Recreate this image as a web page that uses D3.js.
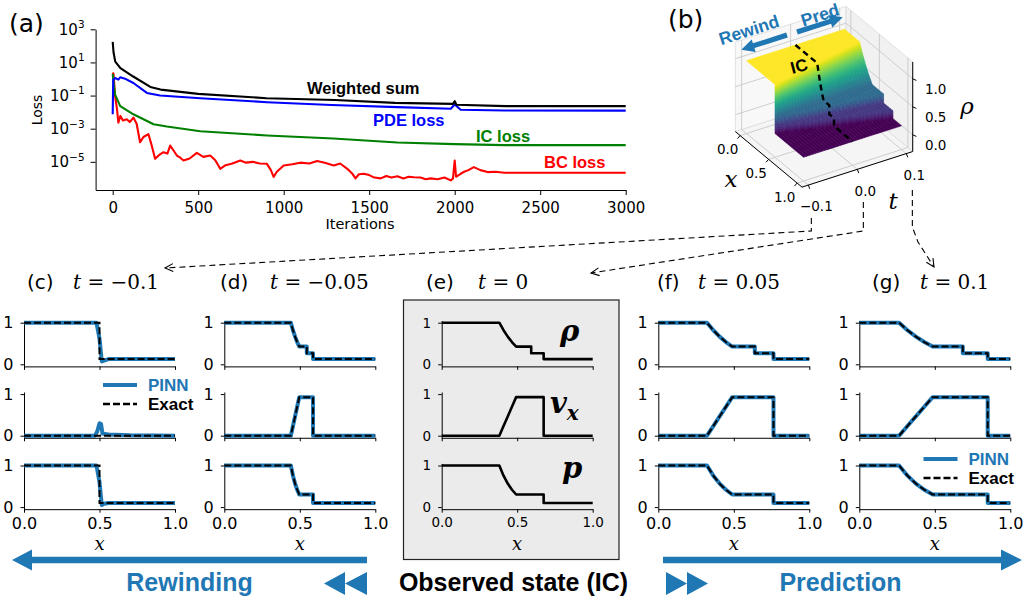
<!DOCTYPE html>
<html>
<head>
<meta charset="utf-8">
<script src="https://cdn.jsdelivr.net/npm/d3@7"></script>
<style>
body { margin: 0; background: #fff; }
svg { display: block; }
</style>
</head>
<body>
<svg id="fig" width="1024" height="597"></svg>
<script>
// ---------- data ----------
// (a) loss history: iteration and log10(loss)
let itWeighted  = [0, 5, 15, 45, 120, 220, 280, 500, 900, 1300, 1650, 1990, 2000, 2010, 2300, 3000];
let logWeighted = [2.24, 1.6, 1.05, 0.65, 0.15, -0.48, -0.64, -0.9, -1.16, -1.27, -1.44, -1.5, -1.34, -1.55, -1.64, -1.64];
let itPDE  = [0, 3, 14, 33, 44, 72, 121, 200, 277, 512, 902, 1280, 1665, 1977, 2000, 2035, 2290, 3000];
let logPDE = [-2.13, -0.04, 0.06, -0.04, 0.1, 0.02, -0.24, -0.84, -1.0, -1.16, -1.4, -1.57, -1.7, -1.8, -1.54, -1.86, -1.9, -1.91];
let itIC  = [0, 8, 14, 44, 121, 239, 317, 512, 902, 1290, 1665, 2000, 2290, 3000];
let logIC = [0.31, -0.44, -0.94, -1.64, -2.13, -2.73, -2.87, -3.15, -3.41, -3.59, -3.83, -3.93, -3.99, -3.99];
let itBC  = [0, 5, 14, 25, 33, 45, 60, 82, 100, 121, 140, 160, 180, 209, 225, 248, 270, 297, 320, 336,
             355, 375, 395, 414, 450, 492, 530, 570, 600, 629, 660, 700, 746, 780, 820, 860, 902, 925, 941, 960,
             1000, 1050, 1098, 1150, 1195, 1240, 1293, 1330, 1372, 1400, 1420, 1440, 1468, 1500, 1530, 1567, 1600, 1630, 1665, 1700,
             1730, 1762, 1800, 1830, 1860, 1900, 1940, 1977, 1990, 2000, 2008, 2016, 2035, 2055, 2080, 2112, 2150, 2192, 2240, 2290, 3000];
let logBC = [0.39, 0.3, -1.04, -1.8, -2.63, -2.23, -2.5, -2.43, -2.6, -2.33, -2.7, -3.82, -3.5, -3.33, -3.9, -4.82, -4.6, -4.42, -4.5, -4.02,
             -4.3, -4.62, -4.75, -4.92, -4.8, -4.46, -4.7, -4.62, -4.9, -5.42, -5.2, -5.1, -4.92, -5.05, -5.0, -5.1, -5.12, -5.5, -5.91, -5.6,
             -5.22, -5.15, -5.05, -5.1, -4.95, -5.05, -5.22, -5.1, -5.42, -5.7, -6.0, -5.75, -5.72, -5.8, -5.95, -6.0, -5.85, -5.95, -5.87, -6.0,
             -5.9, -5.93, -5.95, -6.05, -6.0, -6.05, -5.95, -6.12, -6.0, -4.92, -5.9, -5.85, -5.72, -5.6, -5.5, -5.32, -5.5, -5.62, -5.6, -5.66, -5.66];
let lossTicks = [1e3, 1e1, 1e-1, 1e-3, 1e-5];
let iterTicks = [0, 500, 1000, 1500, 2000, 2500, 3000];

// (c)-(g) profiles at five times, same 11-point layout:
// 0, fan head, 3 fan points, fan tail, contact, contact, shock, shock, 1
let tSlices = [-0.1, -0.05, 0, 0.05, 0.1];
let panelLetters = ["(c)", "(d)", "(e)", "(f)", "(g)"];
let xPts = [
  [0, 0.5, 0.5, 0.5, 0.5, 0.5, 0.5, 0.5, 0.5, 0.5, 1],
  [0, 0.4408, 0.4547, 0.4687, 0.4826, 0.4965, 0.5464, 0.5464, 0.5876, 0.5876, 1],
  [0, 0.3817, 0.4095, 0.4373, 0.4652, 0.4930, 0.5927, 0.5927, 0.6752, 0.6752, 1],
  [0, 0.3225, 0.3643, 0.4060, 0.4478, 0.4895, 0.6391, 0.6391, 0.7628, 0.7628, 1],
  [0, 0.2634, 0.3190, 0.3746, 0.4303, 0.4859, 0.6854, 0.6854, 0.8504, 0.8504, 1]
];
let rhoPts = [1, 1, 0.819, 0.665, 0.535, 0.426, 0.426, 0.266, 0.266, 0.125, 0.125];
let vPts   = [0, 0, 0.232, 0.463, 0.695, 0.927, 0.927, 0.927, 0.927, 0, 0];
let vRest  = [0, 0, 0, 0, 0, 0, 0, 0, 0, 0, 0];
let pPts   = [1, 1, 0.756, 0.565, 0.417, 0.303, 0.303, 0.303, 0.303, 0.1, 0.1];
// PINN at t = -0.1 (differs from exact near the jump)
let pinnRhoX = [0, 0.48, 0.5, 0.515, 0.53, 0.56, 1];
let pinnRhoY = [1, 1, 0.62, 0.07, 0.09, 0.125, 0.125];
let pinnVX = [0, 0.47, 0.485, 0.5, 0.51, 0.52, 0.56, 0.7, 1];
let pinnVY = [0, 0, 0.1, 0.3, 0.28, 0.05, 0.03, 0.01, 0];
let pinnPX = [0, 0.48, 0.5, 0.515, 0.53, 0.56, 1];
let pinnPY = [1, 1, 0.6, 0.05, 0.08, 0.1, 0.1];

// ---------- setup ----------
const svg = d3.select("#fig");
const BLUE = "#1f77b4";
const SANS = "DejaVu Sans, sans-serif";
const ARIAL = "Liberation Sans, Arial, sans-serif";
const SERIF = "DejaVu Serif, serif";

function styleAx(g, fs) {
  g.attr("font-family", SANS).attr("font-size", fs);
  g.selectAll("path.domain, .tick line").attr("stroke", "#000").attr("stroke-width", 1);
  g.selectAll("text").attr("fill", "#000");
}

// ---------- (a) loss ----------
let xa = d3.scaleLinear().domain([-100, 3000]).range([95.6, 625.7]);
let ya = d3.scaleLog().domain([Math.pow(10, -6.7), 1000]).range([190, 29.3]);
let ga = svg.append("g");

let xAxA = ga.append("g").attr("transform", "translate(0,190)")
  .call(d3.axisBottom(xa).tickValues(iterTicks).tickSize(5).tickPadding(7).tickSizeOuter(0).tickFormat(d3.format("d")));
styleAx(xAxA, 15);
let yAxA = ga.append("g").attr("transform", "translate(95.6,0)")
  .call(d3.axisLeft(ya).tickValues(lossTicks).tickSize(5).tickPadding(6).tickSizeOuter(0).tickFormat(""));
styleAx(yAxA, 15);
yAxA.selectAll(".tick text").each(function(d) {
  let t = d3.select(this);
  t.append("tspan").text("10");
  t.append("tspan").attr("dy", -6.5).attr("font-size", 10.5).text(d3.format("d")(Math.round(Math.log10(d))));
});

let lossLine = d3.line().x(d => xa(d[0])).y(d => ya(Math.pow(10, d[1])));
let lossSeries = [
  {it: itBC, lg: logBC, c: "#ff0000"},
  {it: itIC, lg: logIC, c: "#008000"},
  {it: itPDE, lg: logPDE, c: "#0000ff"},
  {it: itWeighted, lg: logWeighted, c: "#000000"}
];
lossSeries.forEach(s => {
  ga.append("path").attr("d", lossLine(d3.zip(s.it, s.lg)))
    .attr("fill", "none").attr("stroke", s.c).attr("stroke-width", 2.1).attr("stroke-linejoin", "round");
});
[["Weighted sum", 307, 93.5, "#000"], ["PDE loss", 373, 125.5, "#0000ff"],
 ["IC loss", 476, 141.5, "#008000"], ["BC loss", 544, 168, "#ff0000"]].forEach(d => {
  ga.append("text").attr("x", d[1]).attr("y", d[2]).text(d[0])
    .attr("font-family", ARIAL).attr("font-weight", "bold").attr("font-size", 16.5).attr("fill", d[3]);
});
ga.append("text").attr("transform", "translate(42,110) rotate(-90)").attr("text-anchor", "middle")
  .attr("font-family", SANS).attr("font-size", 14).text("Loss");
ga.append("text").attr("x", 360).attr("y", 228.5).attr("text-anchor", "middle")
  .attr("font-family", SANS).attr("font-size", 14.5).text("Iterations");
svg.append("text").attr("x", 9).attr("y", 32).attr("font-family", SANS).attr("font-size", 25).text("(a)");

// ---------- (b) 3D surface ----------
let xLo = -0.085, xHi = 1.085, tLo = -0.113, tHi = 0.113, zLo = -0.3, zHi = 1.3;
let O3 = [746.5, 116.75], EX3 = [57, 47.5], ET3 = [98, -31.5], EZ3 = [0, -56];
let tNorm = d3.scaleLinear().domain([-0.1, 0.1]).range([0, 1]);
function P(x, t, z) {
  let u = tNorm(t);
  return [O3[0] + x * EX3[0] + u * ET3[0] + z * EZ3[0], O3[1] + x * EX3[1] + u * ET3[1] + z * EZ3[1]];
}
function poly(pts) { return "M" + pts.map(p => p[0].toFixed(2) + "," + p[1].toFixed(2)).join("L") + "Z"; }
let gb = svg.append("g");

// panes
gb.append("path").attr("d", poly([P(xLo, tLo, zLo), P(xHi, tLo, zLo), P(xHi, tHi, zLo), P(xLo, tHi, zLo)]))
  .attr("fill", "#f5f5f5").attr("stroke", "#dcdcdc").attr("stroke-width", 0.8);
gb.append("path").attr("d", poly([P(xLo, tLo, zLo), P(xLo, tHi, zLo), P(xLo, tHi, zHi), P(xLo, tLo, zHi)]))
  .attr("fill", "#f8f8f8").attr("stroke", "#dcdcdc").attr("stroke-width", 0.8);
gb.append("path").attr("d", poly([P(xLo, tHi, zLo), P(xHi, tHi, zLo), P(xHi, tHi, zHi), P(xLo, tHi, zHi)]))
  .attr("fill", "#f1f1f1").attr("stroke", "#dcdcdc").attr("stroke-width", 0.8);

let xTicks3 = [0, 0.5, 1], tTicks3 = [-0.1, 0, 0.1], zTicks3 = [0, 0.5, 1];
let gridSegs = [];
xTicks3.forEach(x => { gridSegs.push([P(x, tLo, zLo), P(x, tHi, zLo)]); gridSegs.push([P(x, tHi, zLo), P(x, tHi, zHi)]); });
tTicks3.forEach(t => { gridSegs.push([P(xLo, t, zLo), P(xHi, t, zLo)]); gridSegs.push([P(xLo, t, zLo), P(xLo, t, zHi)]); });
zTicks3.forEach(z => { gridSegs.push([P(xLo, tLo, z), P(xLo, tHi, z)]); gridSegs.push([P(xLo, tHi, z), P(xHi, tHi, z)]); });
gridSegs.forEach(s => gb.append("path").attr("d", d3.line()(s)).attr("stroke", "#c8c8c8").attr("stroke-width", 0.9).attr("fill", "none"));

// surface built from the five rho profiles
let viridis = d3.scaleSequential(d3.interpolateViridis).domain([0.125, 1]);
let quads = [];
for (let i = 0; i < tSlices.length - 1; i++) {
  for (let j = 0; j < rhoPts.length - 1; j++) {
    let z0 = rhoPts[j], z1 = rhoPts[j + 1];
    let ns = z0 === z1 ? 1 : 8, nt = 8;
    let pt = (s, u) => {
      let xa0 = xPts[i][j] + (xPts[i][j + 1] - xPts[i][j]) * s;
      let xb0 = xPts[i + 1][j] + (xPts[i + 1][j + 1] - xPts[i + 1][j]) * s;
      return [xa0 + (xb0 - xa0) * u, tSlices[i] + (tSlices[i + 1] - tSlices[i]) * u, z0 + (z1 - z0) * s];
    };
    for (let a = 0; a < nt; a++) {
      for (let b = 0; b < ns; b++) {
        let c = [pt(b / ns, a / nt), pt((b + 1) / ns, a / nt), pt((b + 1) / ns, (a + 1) / nt), pt(b / ns, (a + 1) / nt)];
        let xc = d3.mean(c, d => d[0]), tc = d3.mean(c, d => d[1]), zc = d3.mean(c, d => d[2]);
        quads.push({c: c, depth: -xc + tNorm(tc) - 0.02 * zc, z: zc});
      }
    }
  }
}
quads.sort((p, q) => q.depth - p.depth);
gb.append("g").selectAll("path").data(quads).enter().append("path")
  .attr("d", d => poly(d.c.map(p => P(p[0], p[1], p[2]))))
  .attr("fill", d => viridis(d.z)).attr("stroke", d => viridis(d.z)).attr("stroke-width", 0.6);

// axis lines, ticks, labels
function axisSeg(a, b) { gb.append("path").attr("d", d3.line()([a, b])).attr("stroke", "#000").attr("stroke-width", 1).attr("fill", "none"); }
axisSeg(P(xLo, tLo, zLo), P(xHi, tLo, zLo));
axisSeg(P(xHi, tLo, zLo), P(xHi, tHi, zLo));
axisSeg(P(xHi, tHi, zLo), P(xHi, tHi, zHi));
let fmt1 = d3.format(".1f");
function tick3(p, off, label) {
  let L = Math.hypot(off[0], off[1]);
  gb.append("path").attr("d", d3.line()([p, [p[0] + off[0] / L * 4, p[1] + off[1] / L * 4]])).attr("stroke", "#000").attr("stroke-width", 1);
  gb.append("text").attr("x", p[0] + off[0]).attr("y", p[1] + off[1]).attr("dy", "0.35em").attr("text-anchor", "middle")
    .attr("font-family", SANS).attr("font-size", 13.5).text(label);
}
xTicks3.forEach(x => tick3(P(x, tLo, zLo), [-12.5, 14], fmt1(x)));
tTicks3.forEach(t => tick3(P(xHi, t, zLo), [8, 21.5], fmt1(t)));
zTicks3.forEach(z => tick3(P(xHi, tHi, z), [23, 11], fmt1(z)));
gb.append("text").attr("x", 731).attr("y", 187).attr("text-anchor", "middle").attr("font-family", SERIF)
  .attr("font-style", "italic").attr("font-size", 23).text("x");
gb.append("text").attr("x", 893).attr("y", 209).attr("text-anchor", "middle").attr("font-family", SERIF)
  .attr("font-style", "italic").attr("font-size", 23).text("t");
gb.append("text").attr("x", 967).attr("y", 114).attr("text-anchor", "middle").attr("font-family", SERIF)
  .attr("font-style", "italic").attr("font-size", 23).text("ρ");

// IC profile on the surface
gb.append("path").attr("d", d3.line()(xPts[2].map((x, k) => P(x, 0, rhoPts[k]))))
  .attr("fill", "none").attr("stroke", "#000").attr("stroke-width", 2.4).attr("stroke-dasharray", "6,4");
gb.append("text").attr("transform", "translate(799,66) rotate(-15)").attr("y", 6).attr("text-anchor", "middle")
  .attr("font-family", ARIAL).attr("font-weight", "bold").attr("font-size", 17).text("IC");

function arrowPts(x1, y1, x2, y2, w, hw, hl) {
  let a = Math.atan2(y2 - y1, x2 - x1), L = Math.hypot(x2 - x1, y2 - y1);
  let ca = Math.cos(a), sa = Math.sin(a);
  let loc = (s, n) => [x1 + s * ca - n * sa, y1 + s * sa + n * ca];
  return [loc(0, -w / 2), loc(L - hl, -w / 2), loc(L - hl, -hw / 2), loc(L, 0), loc(L - hl, hw / 2), loc(L - hl, w / 2), loc(0, w / 2)];
}
let etAng = Math.atan2(ET3[1], ET3[0]) * 180 / Math.PI;
gb.append("path").attr("d", poly(arrowPts(787, 35, 741.3, 49.7, 5, 13, 13))).attr("fill", BLUE);
gb.append("path").attr("d", poly(arrowPts(797, 32, 842.7, 17.3, 5, 13, 13))).attr("fill", BLUE);
gb.append("text").attr("transform", `translate(749,30) rotate(${etAng})`).attr("y", 6).attr("text-anchor", "middle")
  .attr("font-family", ARIAL).attr("font-weight", "bold").attr("font-size", 17.5).attr("fill", BLUE).text("Rewind");
gb.append("text").attr("transform", `translate(820,15) rotate(${etAng})`).attr("y", 6).attr("text-anchor", "middle")
  .attr("font-family", ARIAL).attr("font-weight", "bold").attr("font-size", 17.5).attr("fill", BLUE).text("Pred");
svg.append("text").attr("x", 668).attr("y", 28).attr("font-family", SANS).attr("font-size", 25).text("(b)");

// ---------- (c)-(g) profile panels ----------
let colLeft = [24, 224.3, 441.7, 658.3, 859.3], colW = 151;
let rowZero = [364.3, 435.7, 507.1], unitH = 41.6;
let labelX = [27, 220, 426, 657, 872], mathX = [73, 270, 478, 698, 920];

// (e) box
svg.append("rect").attr("x", 403.5).attr("y", 300).attr("width", 215.5).attr("height", 259.5)
  .attr("fill", "#ebebeb").attr("stroke", "#222").attr("stroke-width", 1.2);

tSlices.forEach((tv, k) => {
  let g = svg.append("g");
  let isIC = k === 2;
  let fs = isIC ? 13.5 : 16;
  let xs = d3.scaleLinear().domain([0, 1]).range([colLeft[k], colLeft[k] + colW]);
  let exact = [rhoPts, k === 0 ? vRest : vPts, pPts];
  let pinn = k === 0 ? [[pinnRhoX, pinnRhoY], [pinnVX, pinnVY], [pinnPX, pinnPY]]
                     : exact.map(v => [xPts[k], v]);
  for (let r = 0; r < 3; r++) {
    let ys = d3.scaleLinear().domain([-0.05, 1.05]).range([rowZero[r] + 0.05 * unitH, rowZero[r] - 1.05 * unitH]);
    let bx = g.append("g").attr("transform", `translate(0,${ys(-0.05)})`)
      .call(d3.axisBottom(xs).tickValues([0, 0.5, 1]).tickSize(3.5).tickPadding(5).tickSizeOuter(0)
        .tickFormat(r === 2 ? d3.format(".1f") : ""));
    styleAx(bx, fs);
    let lx = g.append("g").attr("transform", `translate(${colLeft[k]},0)`)
      .call(d3.axisLeft(ys).tickValues([0, 1]).tickSize(3.5).tickPadding(7).tickSizeOuter(0).tickFormat(d3.format("d")));
    styleAx(lx, fs);
    let line = d3.line().x(d => xs(d[0])).y(d => ys(d[1]));
    if (isIC) {
      g.append("path").attr("d", line(d3.zip(xPts[k], exact[r]))).attr("fill", "none")
        .attr("stroke", "#000").attr("stroke-width", 2.6).attr("stroke-linejoin", "round");
    } else {
      g.append("path").attr("d", line(d3.zip(pinn[r][0], pinn[r][1]))).attr("fill", "none")
        .attr("stroke", BLUE).attr("stroke-width", 4).attr("stroke-linejoin", "round");
      g.append("path").attr("d", line(d3.zip(xPts[k], exact[r]))).attr("fill", "none")
        .attr("stroke", "#000").attr("stroke-width", 2).attr("stroke-dasharray", "7,3");
    }
  }
  g.append("text").attr("x", xs(0.5)).attr("y", 550).attr("text-anchor", "middle").attr("font-family", SERIF)
    .attr("font-style", "italic").attr("font-size", 18).text("x");
  g.append("text").attr("x", labelX[k]).attr("y", 289).attr("font-family", SANS).attr("font-size", 20).text(panelLetters[k]);
  let tt = g.append("text").attr("x", mathX[k]).attr("y", 289).attr("font-family", SERIF).attr("font-size", 20);
  tt.append("tspan").attr("font-style", "italic").text("t");
  tt.append("tspan").text(" = " + d3.format("")(tv));
});

// (e) variable names
let ev = svg.append("g").attr("font-family", SERIF).attr("font-weight", "bold").attr("font-style", "italic");
ev.append("text").attr("x", 560).attr("y", 341).attr("font-size", 29).text("ρ");
let vx = ev.append("text").attr("x", 550).attr("y", 413).attr("font-size", 29);
vx.append("tspan").text("v");
vx.append("tspan").attr("dy", 7).attr("font-size", 20).text("x");
ev.append("text").attr("x", 562).attr("y", 478).attr("font-size", 29).text("p");

// legends
function legend(x, y) {
  svg.append("line").attr("x1", x).attr("x2", x + 34).attr("y1", y).attr("y2", y).attr("stroke", BLUE).attr("stroke-width", 4);
  svg.append("line").attr("x1", x).attr("x2", x + 34).attr("y1", y + 19).attr("y2", y + 19).attr("stroke", "#000")
    .attr("stroke-width", 2.6).attr("stroke-dasharray", "7,3");
  svg.append("text").attr("x", x + 45).attr("y", y + 6).attr("font-family", ARIAL).attr("font-weight", "bold")
    .attr("font-size", 17).attr("fill", BLUE).text("PINN");
  svg.append("text").attr("x", x + 45).attr("y", y + 25).attr("font-family", ARIAL).attr("font-weight", "bold")
    .attr("font-size", 17).attr("fill", "#000").text("Exact");
}
legend(103, 385);
legend(923.5, 459);

// ---------- connectors from (b) to the panels ----------
function dashedArrow(pts) {
  svg.append("path").attr("d", d3.line()(pts)).attr("fill", "none").attr("stroke", "#000")
    .attr("stroke-width", 1.1).attr("stroke-dasharray", "6,4");
  let [x2, y2] = pts[pts.length - 1], [x1, y1] = pts[pts.length - 2];
  let a = Math.atan2(y2 - y1, x2 - x1), L = 9, s = 0.45;
  svg.append("path").attr("d", `M${x2 - L * Math.cos(a - s)},${y2 - L * Math.sin(a - s)}L${x2},${y2}L${x2 - L * Math.cos(a + s)},${y2 - L * Math.sin(a + s)}`)
    .attr("fill", "none").attr("stroke", "#000").attr("stroke-width", 1.1);
}
let tLab = tTicks3.map(t => P(xHi, t, zLo));
dashedArrow([[tLab[0][0] + 3, 218], [tLab[0][0] + 3, 231], [165, 268]]);
dashedArrow([[tLab[1][0] + 6, 202], [tLab[1][0] + 6, 231], [591, 273]]);
dashedArrow([[tLab[2][0] + 6, 190], [tLab[2][0] + 6, 227], [918, 242], [934, 267]]);

// ---------- bottom arrows ----------
let gbot = svg.append("g").attr("fill", BLUE);
gbot.append("path").attr("d", poly(arrowPts(367, 560, 12, 560, 6.6, 21, 20)));
gbot.append("path").attr("d", poly(arrowPts(663, 560, 1022, 560, 6.6, 21, 21)));
[[345, 324], [367, 345]].forEach(d => gbot.append("path").attr("d", poly([[d[0], 572], [d[0], 595], [d[1], 583.5]])));
[[666, 687], [687, 708]].forEach(d => gbot.append("path").attr("d", poly([[d[0], 572], [d[0], 595], [d[1], 583.5]])));
[["Rewinding", 189.5, BLUE], ["Observed state (IC)", 513.5, "#000"], ["Prediction", 840.5, BLUE]].forEach(d => {
  svg.append("text").attr("x", d[1]).attr("y", 591).attr("text-anchor", "middle").attr("font-family", ARIAL)
    .attr("font-weight", "bold").attr("font-size", 25).attr("fill", d[2]).text(d[0]);
});
</script>
</body>
</html>
